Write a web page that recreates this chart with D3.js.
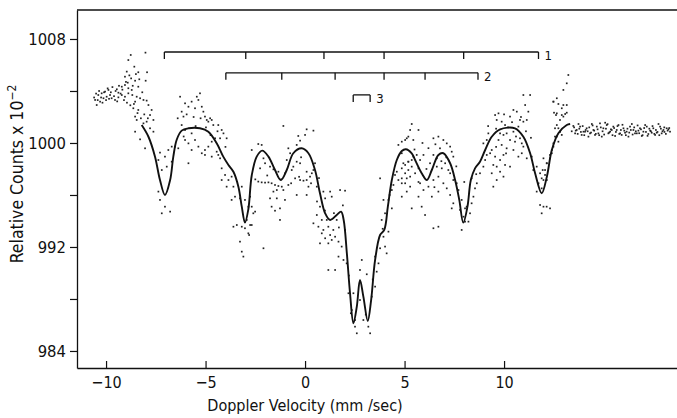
<!DOCTYPE html>
<html>
<head>
<meta charset="utf-8">
<script src="https://cdn.jsdelivr.net/npm/d3@7"></script>
<style>
  body { margin: 0; background: #fff; }
  text { font-family: "DejaVu Sans Condensed", "DejaVu Sans", sans-serif; fill: #111; }
</style>
</head>
<body>
<svg id="chart" width="677" height="418"></svg>
<script>
// tick labels
const xTicks = [-10, -5, 0, 5, 10];
const yTicks = [984, 988, 992, 996, 1000, 1004, 1008];
const yLabelled = [984, 992, 1000, 1008];

// fitted curve (velocity mm/s, counts x 10^-2)
const fitCurve = [
  [-8.21, 1001.38], [-7.87, 1000.48], [-7.54, 998.95], [-7.29, 997.15], [-7.04, 996.0],
  [-6.78, 997.15], [-6.62, 998.95], [-6.45, 1000.25], [-6.2, 1000.95], [-5.86, 1001.13],
  [-5.28, 1001.13], [-4.86, 1000.87], [-4.44, 999.98], [-4.11, 998.95], [-3.85, 998.31],
  [-3.6, 997.79], [-3.35, 996.64], [-3.18, 995.1], [-3.02, 993.87], [-2.85, 994.9],
  [-2.68, 997.5], [-2.43, 998.95], [-2.15, 999.41], [-1.84, 998.95], [-1.51, 997.92],
  [-1.22, 997.15], [-0.92, 997.92], [-0.59, 999.21], [-0.17, 999.59], [0.17, 999.21],
  [0.5, 997.92], [0.75, 996.13], [1.01, 994.59], [1.26, 994.08], [1.59, 994.46],
  [1.81, 994.72], [1.94, 994.08], [2.1, 991.52], [2.26, 988.44], [2.43, 986.13],
  [2.6, 987.41], [2.76, 989.46], [2.93, 988.18], [3.15, 986.31], [3.32, 987.92],
  [3.52, 991.0], [3.77, 992.92], [3.98, 993.31], [4.16, 995.1], [4.36, 997.15],
  [4.61, 998.69], [4.86, 999.38], [5.06, 999.52], [5.36, 999.21], [5.53, 998.69],
  [5.86, 997.67], [6.12, 997.15], [6.37, 997.92], [6.7, 999.08], [6.95, 999.21],
  [7.29, 998.44], [7.54, 997.15], [7.75, 995.62], [7.95, 993.87], [8.16, 995.1],
  [8.33, 997.15], [8.54, 998.05], [8.79, 998.56], [9.05, 999.46], [9.38, 1000.48],
  [9.8, 1001.05], [10.55, 1001.13], [10.97, 1000.48], [11.31, 999.21], [11.56, 997.67],
  [11.89, 996.13], [12.15, 997.41], [12.4, 999.46], [12.73, 1000.75], [13.15, 1001.38],
  [13.32, 1001.46]
];

const dotsLeft = [
  [-8.76, 1006.77], [-8.02, 1006.95], [-8.88, 1006.38], [-8.58, 1005.87], [-8.96, 1005.49],
  [-8.38, 1005.44], [-7.94, 1005.44], [-9.05, 1005.1], [-8.74, 1004.97], [-8.54, 1004.79],
  [-8.91, 1004.64], [-8.01, 1004.79], [-9.05, 1004.46], [-9.21, 1004.33], [-8.88, 1004.21],
  [-8.71, 1004.08], [-8.38, 1004.33], [-9.46, 1004.13], [-9.38, 1003.87], [-9.88, 1004.08],
  [-10.05, 1003.95], [-10.22, 1003.82], [-10.39, 1003.69], [-10.55, 1003.31], [-10.47, 1002.92],
  [-10.3, 1003.18], [-10.13, 1003.44], [-9.97, 1003.56], [-9.8, 1003.69], [-9.72, 1003.44],
  [-9.55, 1003.31], [-9.38, 1003.51], [-9.21, 1003.69], [-9.05, 1003.56], [-8.88, 1003.82],
  [-8.68, 1003.69], [-8.46, 1003.56], [-8.29, 1003.44], [-8.12, 1003.31], [-7.96, 1003.26],
  [-8.54, 1003.18], [-8.63, 1002.67], [-8.38, 1002.54], [-8.54, 1002.03], [-8.46, 1001.77],
  [-7.87, 1002.92], [-7.71, 1002.54], [-7.79, 1002.15], [-7.62, 1001.77], [-7.96, 1001.64],
  [-8.12, 1001.51], [-7.79, 1001.13], [-7.62, 1000.87], [-8.54, 1000.87], [-8.29, 1000.28],
  [-8.04, 999.59], [-7.29, 999.26], [-7.37, 998.69], [-7.04, 998.95], [-6.87, 999.46],
  [-6.7, 999.72], [-7.2, 997.92], [-6.95, 998.18], [-6.7, 998.56], [-7.37, 996.26],
  [-7.29, 995.62], [-7.2, 994.59], [-6.78, 994.72], [-7.04, 995.1], [-6.28, 1003.56],
  [-6.2, 1002.41], [-6.11, 1002.03], [-6.03, 1003.05], [-5.86, 1002.79], [-5.7, 1003.18],
  [-5.53, 1002.67], [-5.44, 1003.56], [-5.28, 1003.82], [-5.36, 1003.31], [-5.19, 1002.79],
  [-5.11, 1002.41], [-5.03, 1002.03], [-4.94, 1001.77], [-4.86, 1001.64], [-4.77, 1001.9],
  [-4.69, 1001.77], [-4.61, 1001.38], [-4.36, 1001.38], [-4.19, 1001.0], [-4.1, 1000.74],
  [-4.27, 1000.36], [-3.94, 1000.36], [-6.2, 1001.38], [-6.03, 1001.0], [-5.7, 1000.74],
  [-6.03, 1000.23], [-5.86, 999.97], [-5.53, 1000.23], [-5.36, 999.72], [-5.7, 999.46],
  [-5.19, 999.21], [-5.03, 999.46], [-4.86, 999.72], [-4.69, 1000.1], [-4.52, 1000.36],
  [-4.44, 999.33], [-4.36, 999.08], [-4.27, 998.82], [-4.69, 998.95], [-5.03, 999.08],
  [-5.86, 998.44], [-6.37, 999.59], [-6.53, 999.72], [-4.19, 998.05], [-4.02, 997.54],
  [-3.85, 997.15], [-3.94, 996.64], [-4.19, 997.15], [-3.69, 997.41], [-3.6, 996.64],
  [-3.52, 995.87], [-3.69, 995.62], [-3.18, 996.64], [-3.27, 995.74], [-3.02, 995.62],
  [-2.76, 995.87], [-2.85, 995.1], [-3.6, 993.56], [-3.43, 993.69], [-3.18, 993.56],
  [-3.02, 993.44], [-2.85, 993.05], [-3.27, 992.41], [-3.18, 991.64], [-3.1, 991.26],
  [-2.68, 993.69], [-2.6, 994.59]
];

const dotsLeftExtra = [
  [-10.6, 1003.5], [-10.5, 1003.8], [-10.42, 1003.3], [-10.35, 1004.0], [-10.25, 1003.5],
  [-10.18, 1003.1], [-10.1, 1003.9], [-10.0, 1003.3], [-9.92, 1004.2], [-9.85, 1003.4],
  [-9.76, 1003.9], [-9.68, 1004.3], [-9.6, 1003.6], [-9.52, 1004.0], [-9.44, 1003.2],
  [-9.35, 1004.4], [-9.27, 1003.8], [-9.18, 1004.1], [-9.1, 1003.3], [-9.0, 1004.7],
  [-8.95, 1003.1], [-8.83, 1005.2], [-8.78, 1002.9], [-8.66, 1004.4], [-8.6, 1003.0],
  [-8.5, 1005.3], [-8.42, 1002.3], [-8.33, 1004.9], [-8.25, 1001.9], [-8.18, 1003.9],
  [-8.08, 1002.2], [-7.9, 1001.9], [-5.95, 1002.2], [-5.6, 1002.0], [-5.25, 1001.9],
  [-4.98, 1001.2], [-4.75, 1000.6], [-5.5, 1001.3], [-6.4, 1001.9], [-6.1, 1000.5],
  [-4.4, 1000.9], [-4.0, 999.7]
];

const dotsCentre = [
  [-1.09, 1001.31], [0.08, 1001.05], [0.42, 1000.95], [-0.34, 1000.54], [0.0, 1000.62],
  [-0.25, 1000.18], [-0.42, 999.85], [-2.35, 999.92], [-2.18, 999.85], [-2.68, 999.46],
  [-0.84, 999.59], [-0.75, 999.21], [-0.92, 998.69], [-0.42, 998.56], [-0.25, 998.44],
  [-0.59, 998.18], [-0.67, 997.92], [-1.01, 997.67], [-1.34, 997.79], [-1.59, 997.97],
  [-1.76, 998.18], [-2.01, 998.44], [-2.09, 998.82], [-2.26, 998.05], [-2.35, 997.03],
  [-2.18, 996.97], [-2.01, 996.95], [-1.84, 996.97], [-1.68, 996.9], [-1.51, 996.77],
  [-1.34, 996.69], [-1.17, 996.64], [-1.09, 996.38], [-1.42, 996.38], [-1.59, 996.26],
  [-1.76, 995.74], [-1.42, 995.74], [-1.68, 995.1], [-1.51, 994.79], [-1.26, 994.08],
  [-1.26, 994.97], [-1.01, 995.62], [-0.84, 996.77], [-0.5, 997.28], [-0.25, 997.15],
  [-0.08, 997.1], [0.08, 997.15], [0.25, 997.41], [0.34, 997.67], [0.5, 998.44],
  [0.42, 997.92], [0.08, 997.79], [0.17, 996.64], [-0.42, 996.0], [0.08, 996.0],
  [0.59, 996.64], [0.92, 996.26], [1.26, 996.26], [1.01, 995.74], [1.34, 995.87],
  [1.76, 996.38], [2.01, 996.33], [0.75, 995.1], [0.59, 994.46], [0.84, 994.08],
  [1.09, 994.08], [0.42, 993.82], [0.67, 993.56], [0.92, 993.31], [1.17, 993.56],
  [1.26, 992.92], [1.42, 993.31], [1.59, 994.08], [1.51, 992.79], [1.34, 992.54],
  [1.01, 992.67], [0.84, 993.05], [0.75, 992.28], [1.17, 992.28], [1.68, 992.41],
  [2.01, 993.31], [1.84, 992.03], [1.68, 991.26], [1.93, 991.0], [2.09, 990.74],
  [1.51, 990.23], [1.17, 990.23], [-2.68, 995.1], [-2.51, 994.72], [-2.93, 994.08],
  [-2.76, 993.69], [-2.81, 992.92], [-2.09, 991.9], [2.51, 986.38], [2.76, 987.92],
  [2.76, 990.23], [2.85, 991.0], [2.6, 985.36], [3.18, 985.87], [3.27, 985.36],
  [2.93, 986.38], [2.51, 985.87], [2.35, 987.15], [2.18, 988.44], [2.43, 988.44],
  [3.35, 988.18], [3.52, 988.95], [3.6, 990.1], [3.69, 990.74], [3.52, 991.26],
  [3.77, 991.9], [4.02, 992.03], [3.94, 992.79], [4.1, 991.51], [4.19, 993.18],
  [3.85, 994.08], [4.02, 994.59], [4.36, 994.97], [3.94, 995.62], [4.19, 995.62],
  [4.36, 996.38], [4.44, 996.77], [4.52, 997.54], [4.61, 997.79], [4.69, 997.15],
  [4.86, 997.28], [5.03, 996.9], [5.19, 997.92], [5.28, 997.41], [5.36, 998.18],
  [5.36, 998.69], [5.19, 998.56], [5.03, 998.31], [4.86, 998.05], [4.69, 999.85],
  [4.86, 1000.1], [5.03, 1000.23], [5.19, 1000.49], [5.36, 1001.46], [5.36, 994.97],
  [3.77, 997.28], [4.86, 995.87], [5.11, 996.26]
];

const dotsCentreExtra = [
  [0.3, 996.9], [0.6, 995.5], [1.0, 994.8], [1.45, 994.6], [1.7, 993.5],
  [-0.3, 997.4], [-0.7, 996.9], [-1.9, 997.5], [2.2, 989.8], [3.4, 989.5],
  [3.9, 993.4], [4.25, 996.0], [-2.5, 997.2], [-1.2, 997.2], [-0.2, 998.9],
  [0.7, 997.3], [1.9, 995.2], [2.3, 986.9], [3.05, 986.8], [3.1, 989.9]
];

const dotsRight = [
  [5.28, 1001.0], [5.7, 1001.0], [5.44, 1000.23], [5.11, 1000.36], [4.86, 999.21],
  [4.94, 998.44], [5.19, 998.56], [5.44, 998.95], [5.61, 999.08], [5.78, 998.69],
  [5.95, 999.08], [5.7, 998.05], [5.53, 997.67], [5.03, 997.67], [5.11, 997.28],
  [4.86, 996.9], [5.28, 996.64], [5.78, 996.9], [5.95, 996.38], [5.7, 995.87],
  [5.86, 995.1], [6.03, 994.46], [6.45, 1000.36], [6.7, 1000.49], [6.95, 1000.23],
  [6.78, 999.59], [7.12, 999.97], [7.29, 999.72], [7.37, 999.33], [7.45, 998.95],
  [6.62, 998.82], [6.45, 999.08], [6.28, 998.44], [6.62, 998.18], [6.87, 998.05],
  [7.04, 998.44], [7.2, 997.92], [7.29, 997.67], [6.7, 997.41], [6.45, 997.15],
  [6.2, 996.64], [6.37, 995.87], [6.7, 996.26], [6.95, 996.9], [7.12, 996.51],
  [7.29, 996.0], [7.45, 995.36], [7.45, 997.15], [7.62, 996.9], [7.71, 996.38],
  [7.87, 995.62], [7.37, 994.97], [7.79, 994.85], [7.96, 994.33], [8.04, 993.95],
  [8.21, 993.95], [8.29, 994.59], [8.12, 995.1], [8.37, 995.36], [8.46, 995.87],
  [8.54, 996.51], [8.63, 996.9], [8.37, 997.28], [7.87, 993.31], [8.04, 994.97],
  [6.7, 993.56], [6.45, 993.44], [8.79, 997.67], [8.96, 998.18], [9.05, 998.69],
  [9.13, 999.08], [9.3, 999.21], [9.38, 999.46], [9.13, 1000.23], [9.21, 1000.74],
  [8.96, 999.97], [9.55, 1002.15], [9.72, 1002.28], [9.63, 1001.77], [9.88, 1001.64],
  [10.05, 1001.38], [10.3, 1002.03], [10.47, 1002.54], [10.64, 1002.41], [10.8, 1001.77],
  [10.97, 1001.64], [11.14, 1001.77], [11.22, 1002.41], [11.06, 1002.92], [11.31, 1003.69],
  [10.97, 1003.69], [10.72, 1001.26], [10.47, 1000.87], [10.13, 1000.74], [9.97, 1000.62],
  [9.8, 1000.74], [9.72, 1000.23], [9.88, 999.85], [10.3, 1000.23], [10.55, 1000.1],
  [10.8, 1000.36], [10.89, 999.97], [10.97, 999.72], [10.47, 999.46], [10.13, 999.59],
  [9.97, 999.08], [9.8, 998.69], [9.55, 998.95], [9.46, 998.31], [9.38, 997.67],
  [9.63, 998.18], [9.8, 997.79], [10.05, 998.31], [10.3, 998.18], [9.97, 997.41],
  [9.63, 997.15], [9.46, 996.64], [10.72, 998.95], [10.89, 999.21], [11.14, 998.82],
  [11.39, 998.95], [11.47, 997.92], [11.64, 998.18], [11.81, 997.67], [11.73, 996.9],
  [11.98, 997.15], [11.89, 996.51], [12.15, 997.15], [12.06, 997.92], [11.64, 996.26],
  [11.81, 995.23], [11.98, 995.1], [12.14, 995.1], [12.31, 994.97], [11.89, 994.59],
  [12.48, 1003.18], [12.65, 1003.44], [12.98, 1004.08], [13.15, 1002.92], [12.9, 1002.67],
  [12.65, 1002.28], [12.98, 1002.03], [12.81, 1001.77], [13.15, 1004.59], [13.23, 1005.23],
  [12.56, 1001.13], [12.65, 1000.49], [12.73, 1000.1], [12.48, 999.72], [12.4, 999.21],
  [12.31, 998.82], [12.15, 998.44], [12.81, 1000.87]
];

const dotsRightExtra = [
  [5.5, 999.5], [5.9, 1000.0], [6.2, 999.6], [6.55, 999.9], [6.85, 998.6],
  [7.1, 998.9], [7.6, 998.2], [8.0, 997.0], [8.6, 997.6], [5.7, 997.0],
  [6.1, 998.0], [6.5, 996.6], [9.2, 1001.3], [9.6, 1001.1], [10.0, 1002.2],
  [10.2, 1001.2], [10.4, 1001.6], [10.6, 1000.5], [10.85, 1002.0], [11.1, 1000.9],
  [11.35, 1000.4], [10.1, 999.2], [9.6, 999.7]
];

const dotsTail = [
  [12.48, 1003.18], [12.73, 1003.0], [12.98, 1002.92], [12.51, 1002.33], [12.61, 1002.15],
  [12.9, 1002.15], [13.07, 1002.23], [13.15, 1002.33], [12.65, 1001.38], [12.73, 1001.13],
  [12.81, 1000.87], [12.9, 1000.62], [12.56, 1000.49], [12.48, 999.97], [12.4, 999.46],
  [12.31, 999.08], [11.98, 998.82], [12.14, 998.44], [11.94, 997.92], [12.06, 997.54],
  [11.89, 997.28], [13.48, 1001.31], [13.65, 1001.0], [13.82, 1001.26], [13.99, 1000.87],
  [14.15, 1001.13], [14.32, 1000.74], [14.49, 1001.0], [14.66, 1001.26], [14.82, 1001.51],
  [14.99, 1001.13], [15.16, 1001.38], [15.33, 1000.87], [15.49, 1001.26], [15.66, 1001.0],
  [15.83, 1000.74], [16.0, 1001.13], [16.16, 1000.87], [16.33, 1001.26], [16.5, 1001.0],
  [16.67, 1000.74], [16.83, 1001.13], [17.0, 1000.87], [17.17, 1001.26], [17.34, 1000.95],
  [17.5, 1001.13], [17.67, 1000.79], [17.84, 1001.26], [18.01, 1001.0], [18.17, 1001.13],
  [18.34, 1000.87], [13.57, 1000.74], [13.9, 1000.62], [14.24, 1000.49], [14.57, 1000.62],
  [14.91, 1000.49], [15.24, 1000.74], [15.58, 1000.54], [15.91, 1000.62], [16.25, 1000.49],
  [16.58, 1000.74], [16.92, 1000.54], [17.25, 1000.69], [17.59, 1000.62], [17.92, 1000.74],
  [18.26, 1001.05], [13.74, 1001.46], [14.41, 1001.46], [15.08, 1001.56], [15.75, 1001.38],
  [16.42, 1001.46], [17.09, 1001.38], [17.76, 1001.46], [14.07, 1000.87], [14.74, 1000.74],
  [15.41, 1001.0], [16.08, 1000.79], [16.75, 1000.95], [17.42, 1000.79], [18.06, 1000.85]
];

const dotsTailExtra = [
  [13.4, 1000.9], [13.52, 1001.2], [13.6, 1000.95], [13.7, 1000.7], [13.78, 1001.1],
  [13.86, 1000.85], [13.95, 1001.3], [14.03, 1000.6], [14.1, 1001.0], [14.2, 1000.9],
  [14.28, 1001.2], [14.37, 1000.8], [14.45, 1001.35], [14.53, 1000.95], [14.61, 1000.7],
  [14.7, 1001.05], [14.78, 1000.6], [14.86, 1001.2], [14.95, 1000.9], [15.03, 1000.65],
  [15.12, 1001.1], [15.2, 1001.45], [15.28, 1000.8], [15.37, 1001.05], [15.45, 1000.6],
  [15.53, 1001.15], [15.62, 1000.85], [15.7, 1001.3], [15.79, 1000.7], [15.87, 1001.0],
  [15.95, 1001.4], [16.04, 1000.95], [16.12, 1000.6], [16.2, 1001.1], [16.29, 1000.8],
  [16.37, 1001.0], [16.46, 1000.65], [16.54, 1001.2], [16.62, 1000.9], [16.71, 1001.35],
  [16.79, 1000.75], [16.88, 1001.05], [16.96, 1000.6], [17.04, 1001.15], [17.13, 1000.85],
  [17.21, 1000.55], [17.3, 1001.1], [17.38, 1000.9], [17.46, 1001.3], [17.55, 1000.7],
  [17.63, 1001.0], [17.71, 1000.85], [17.8, 1000.6], [17.88, 1001.1], [17.96, 1000.9],
  [18.05, 1001.2], [18.13, 1000.7], [18.22, 1000.95], [18.3, 1001.15]
];

// line positions of the three components
const sextet1 = [-7.07, -2.98, 0.95, 3.97, 7.97, 11.73];
const sextet2 = [-3.98, -1.17, 1.51, 3.97, 6.03, 8.69];
const doublet3 = [2.42, 3.27];
const markerLevels = [1007.0, 1005.4, 1003.7];
const markerNames = ["1", "2", "3"];

const svg = d3.select("#chart"),
  width = +svg.attr("width"),
  height = +svg.attr("height");

const margin = { left: 77, top: 10, bottom: 50 };

const x = d3.scaleLinear().domain([-11.46, 18.69]).range([margin.left, width]);
const y = d3.scaleLinear().domain([982.69, 1010.23]).range([height - margin.bottom, margin.top]);

// frame top
svg.append("line")
  .attr("x1", margin.left).attr("x2", width)
  .attr("y1", margin.top).attr("y2", margin.top)
  .attr("stroke", "#111").attr("stroke-width", 1.3);

// X axis, ticks pointing inward
svg.append("g")
  .attr("transform", `translate(0,${height - margin.bottom})`)
  .call(d3.axisBottom(x).tickValues(xTicks).tickSizeInner(-7).tickSizeOuter(0).tickPadding(9).tickFormat(d3.format("d")))
  .call((g) => {
    g.select(".domain").attr("stroke", "#111").attr("stroke-width", 1.3);
    g.selectAll(".tick line").attr("stroke", "#111").attr("stroke-width", 1.2);
    g.selectAll(".tick text").attr("font-size", 16).attr("font-family", "DejaVu Sans Condensed").attr("fill", "#111");
  });

// Y axis
svg.append("g")
  .attr("transform", `translate(${margin.left},0)`)
  .call(d3.axisLeft(y).tickValues(yTicks).tickSizeInner(7).tickSizeOuter(0).tickPadding(4)
    .tickFormat((d) => (yLabelled.includes(d) ? d : "")))
  .call((g) => {
    g.select(".domain").attr("stroke", "#111").attr("stroke-width", 1.3);
    g.selectAll(".tick line").attr("stroke", "#111").attr("stroke-width", 1.2);
    g.selectAll(".tick text").attr("font-size", 16.5).attr("font-family", "DejaVu Sans Condensed").attr("fill", "#111");
  });

// axis titles
svg.append("text")
  .attr("x", 305).attr("y", 411)
  .attr("text-anchor", "middle")
  .attr("font-size", 16)
  .text("Doppler Velocity (mm /sec)");

const yTitle = svg.append("text")
  .attr("transform", "translate(23,174) rotate(-90)")
  .attr("text-anchor", "middle")
  .attr("font-size", 17.5);
yTitle.append("tspan").text("Relative Counts  x 10");
yTitle.append("tspan").attr("dy", -7).attr("font-size", 12).text("−2");

// data points
const allDots = dotsLeft.concat(dotsLeftExtra, dotsCentre, dotsCentreExtra, dotsRight, dotsRightExtra, dotsTail, dotsTailExtra);
svg.append("g")
  .selectAll("rect")
  .data(allDots)
  .join("rect")
  .attr("x", (d) => x(d[0]) - 0.85)
  .attr("y", (d) => y(d[1]) - 0.85)
  .attr("width", 1.7)
  .attr("height", 1.7)
  .attr("fill", "#222");

// fitted curve
svg.append("path")
  .datum(fitCurve)
  .attr("fill", "none")
  .attr("stroke", "#111")
  .attr("stroke-width", 1.9)
  .attr("d", d3.line().x((d) => x(d[0])).y((d) => y(d[1])).curve(d3.curveCatmullRom.alpha(0.5)));

// stick diagrams for each component
[sextet1, sextet2, doublet3].forEach((lines, i) => {
  const g = svg.append("g").attr("stroke", "#111").attr("stroke-width", 1.3);
  const level = y(markerLevels[i]);
  g.append("line")
    .attr("x1", x(lines[0])).attr("x2", x(lines[lines.length - 1]))
    .attr("y1", level).attr("y2", level);
  g.selectAll(".stick")
    .data(lines)
    .join("line")
    .attr("class", "stick")
    .attr("x1", (d) => x(d)).attr("x2", (d) => x(d))
    .attr("y1", level).attr("y2", level + 7);
  svg.append("text")
    .attr("x", x(lines[lines.length - 1]) + 6)
    .attr("y", level + 8)
    .attr("font-size", 13)
    .text(markerNames[i]);
});
</script>
</body>
</html>
